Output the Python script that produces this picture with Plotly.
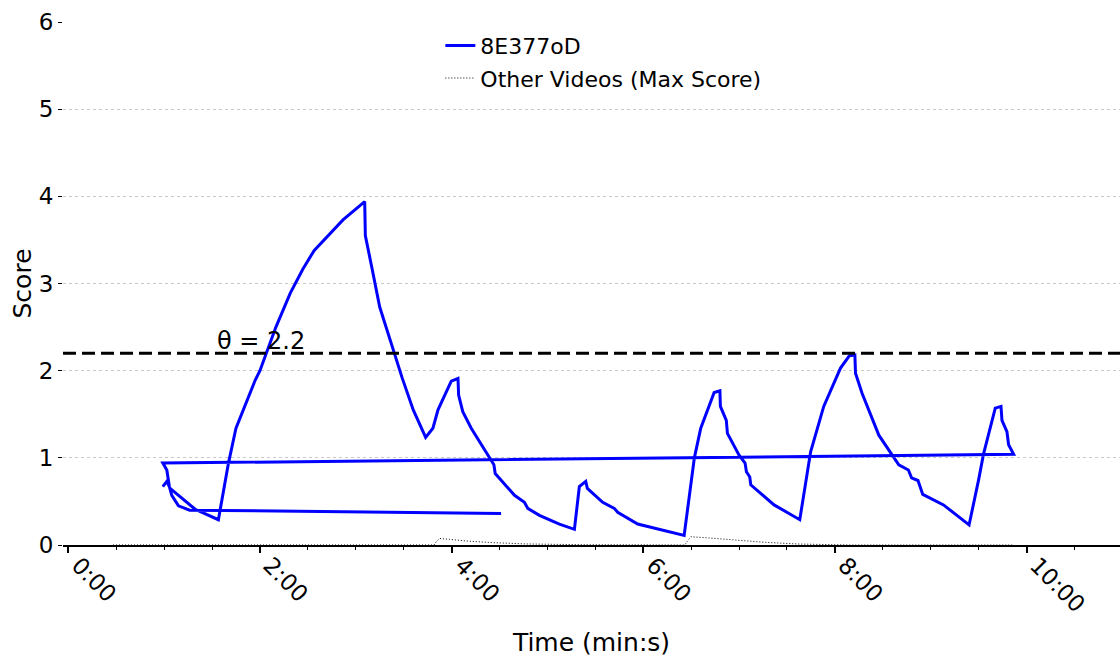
import plotly.graph_objects as go

# Blue series (time in seconds, score) in recorded order
video_t = [59.2, 61.7, 63.75, 79.4, 94, 100.3, 105, 112, 117, 120, 130, 139, 147, 154, 162, 172, 185.6,
           186, 190, 195, 204, 209, 216, 223.75, 228.3, 231.5, 239.8, 244, 244.4, 247, 252.3, 263.75,
           266.5, 267.3, 279.4, 285.6, 287.7, 295, 307.5, 316.9, 320, 324, 325, 334.6, 341.9, 344,
           354.4, 356.5, 385.6, 389.8, 392, 396, 404.4, 408, 408.3, 412, 412.7, 420, 423.75, 424.6,
           426.7, 427.3, 441.9, 458, 464.8, 473, 483.5, 489, 492.5, 492.9, 497, 507.5, 520, 526, 528,
           532, 535, 548, 564, 570, 573, 580.4, 584, 584.6, 587.7, 588.75, 591.9,
           59.2, 61.7, 63.3, 64.8, 69, 76, 271]
video_score = [0.67, 0.73, 0.65, 0.41, 0.29, 0.94, 1.34, 1.66, 1.89, 2.0, 2.5, 2.89, 3.17, 3.38, 3.54, 3.73, 3.94,
               3.55, 3.19, 2.73, 2.21, 1.92, 1.55, 1.235, 1.34, 1.55, 1.88, 1.91, 1.72, 1.53, 1.34, 0.99,
               0.92, 0.82, 0.57, 0.49, 0.42, 0.34, 0.24, 0.18, 0.67, 0.73, 0.65, 0.49, 0.42, 0.375,
               0.27, 0.24, 0.11, 0.69, 1.0, 1.34, 1.75, 1.77, 1.59, 1.43, 1.28, 1.03, 0.94, 0.84,
               0.78, 0.69, 0.46, 0.29, 1.07, 1.59, 2.03, 2.17, 2.18, 1.97, 1.74, 1.26, 0.92, 0.86, 0.77,
               0.74, 0.58, 0.46, 0.23, 0.75, 1.04, 1.57, 1.59, 1.43, 1.30, 1.15, 1.04,
               0.94, 0.86, 0.67, 0.57, 0.45, 0.40, 0.36]

# Other videos (max score)
other_t = [28, 229, 230.5, 232.5, 238.75, 249, 266, 286.7, 324, 386, 387.5, 389.8, 399, 415.6, 436.7,
           457.5, 490, 592]
other_score = [0, 0, 0.04, 0.075, 0.065, 0.046, 0.027, 0.012, 0.003, 0, 0.04, 0.095, 0.084, 0.057, 0.03,
               0.011, 0, 0]

threshold = 2.2
tick_vals = [0, 120, 240, 360, 480, 600]
tick_text = ["0:00", "2:00", "4:00", "6:00", "8:00", "10:00"]
y_ticks = [0, 1, 2, 3, 4, 5, 6]

FONT = "DejaVu Sans"

fig = go.Figure()
fig.add_trace(go.Scatter(x=video_t, y=video_score, mode="lines", name="8E377oD",
                         line=dict(color="#0000ff", width=3), legendgroup="a"))
fig.add_trace(go.Scatter(x=other_t, y=other_score, mode="lines", name="Other Videos (Max Score)",
                         line=dict(color="black", width=1, dash="1px,2px"), legendgroup="b"))

fig.add_shape(type="line", xref="paper", x0=0, x1=1, yref="y", y0=threshold, y1=threshold,
              line=dict(color="black", width=3, dash="13px,6px"))
fig.add_annotation(x=92, y=threshold, xref="x", yref="y", text="θ = " + str(threshold),
                   showarrow=False, xanchor="left", yanchor="bottom", yshift=-4,
                   font=dict(size=24, color="black", family=FONT))

fig.update_layout(
    width=1120, height=657,
    margin=dict(l=63, r=0, t=22, b=112),
    plot_bgcolor="white", paper_bgcolor="white",
    font=dict(family=FONT, size=22, color="black"),
    showlegend=True,
    legend=dict(x=0.357, y=0.995, xanchor="left", yanchor="top", bgcolor="rgba(0,0,0,0)",
                font=dict(size=22), tracegroupgap=1),
    xaxis=dict(range=[-3.3, 658.5], tickvals=tick_vals, ticktext=tick_text, tickangle=45,
               showline=True, linecolor="black", linewidth=1.5, ticks="outside", ticklen=6,
               tickwidth=1.5, tickcolor="black", showgrid=False, zeroline=False,
               tickfont=dict(size=23), ticklabelshift=10, ticklabelstandoff=-10,
               title=dict(text="Time (min:s)", font=dict(size=25), standoff=18),
               minor=dict(dtick=30, tick0=0, ticks="outside", ticklen=3.5, tickcolor="black",
                          tickwidth=1, showgrid=False)),
    yaxis=dict(range=[0, 6], tickvals=y_ticks, showline=False, ticks="outside", ticklen=4,
               tickcolor="black", tickwidth=1, showgrid=True, gridcolor="#c8c8c8", gridwidth=1,
               griddash="dot", zeroline=False, tickfont=dict(size=23),
               title=dict(text="Score", font=dict(size=25), standoff=0)),
)

fig.write_html("out.html")
